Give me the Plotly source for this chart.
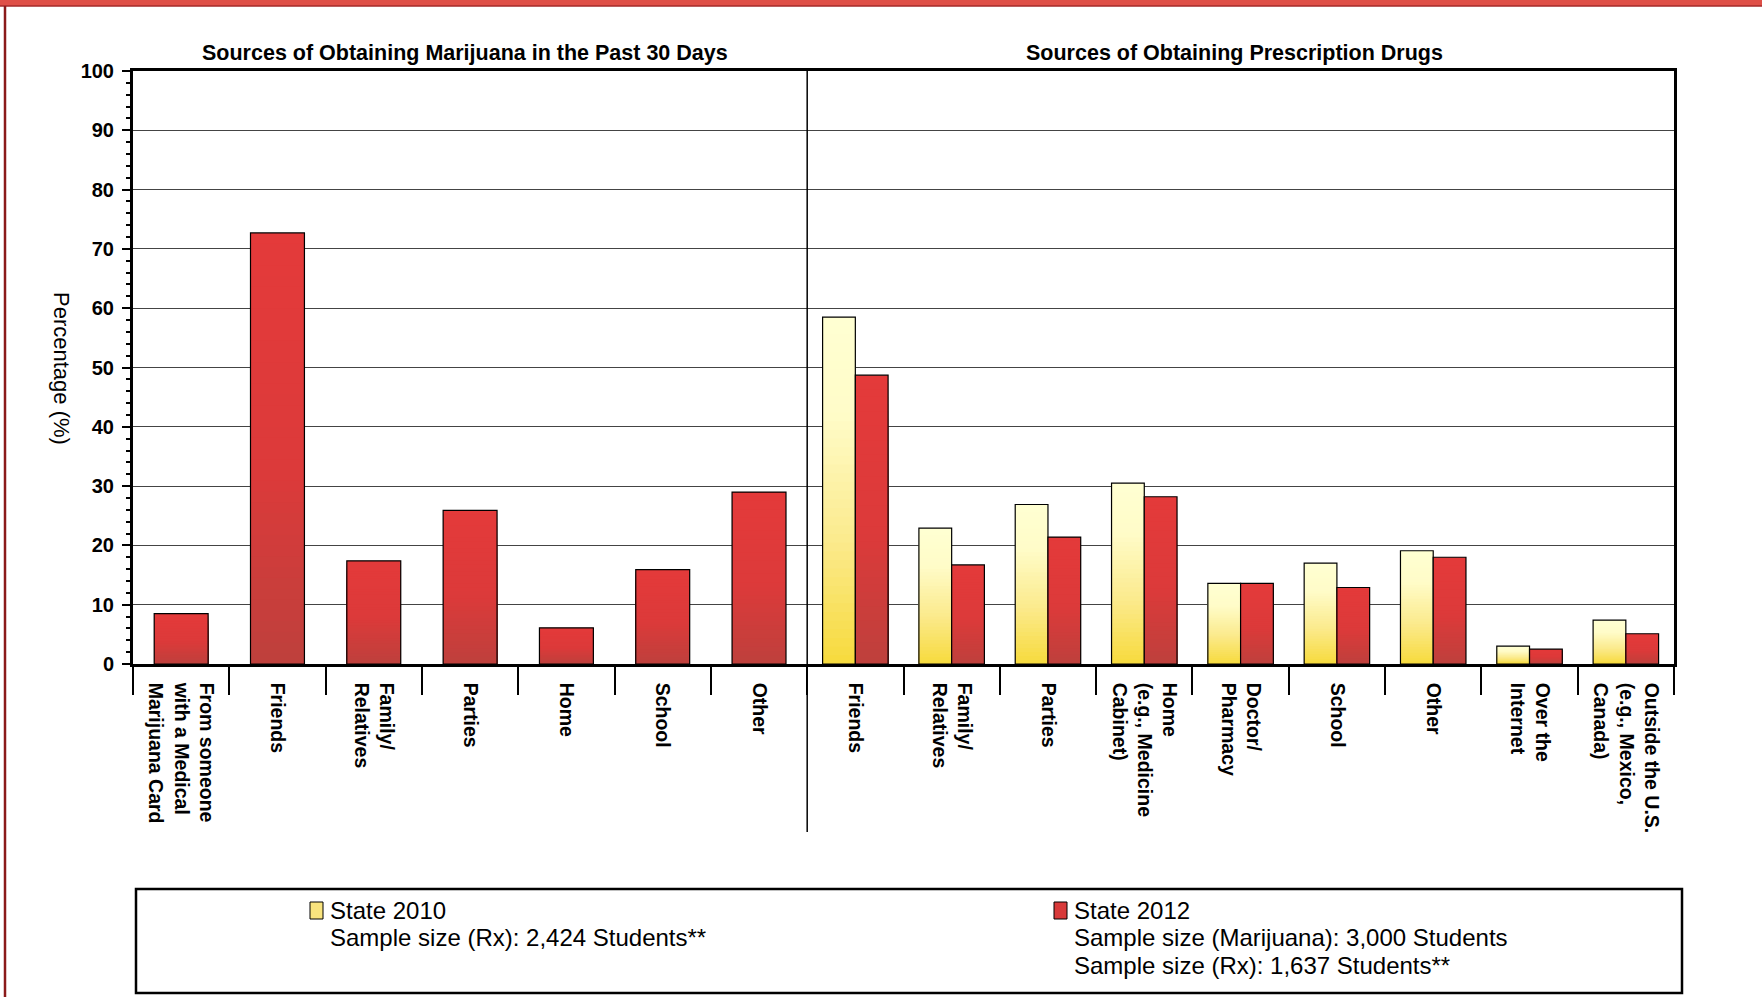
import plotly.graph_objects as go

# ---------------- data ----------------
mj_categories = ["From someone<br>with a Medical<br>Marijuana Card", "Friends", "Family/<br>Relatives",
                 "Parties", "Home", "School", "Other"]
rx_categories = ["Friends", "Family/<br>Relatives", "Parties", "Home<br>(e.g., Medicine<br>Cabinet)",
                 "Doctor/<br>Pharmacy", "School", "Other", "Over the<br>Internet",
                 "Outside the U.S.<br>(e.g., Mexico,<br>Canada)"]
mj_2012 = [8.5, 72.7, 17.4, 25.9, 6.1, 15.9, 29.0]
rx_2010 = [58.5, 22.9, 26.9, 30.5, 13.6, 17.0, 19.1, 3.0, 7.4]
rx_2012 = [48.7, 16.7, 21.4, 28.2, 13.6, 12.9, 18.0, 2.5, 5.1]
y_ticks = list(range(0, 101, 10))

left_title = "Sources of Obtaining Marijuana in the Past 30 Days"
right_title = "Sources of Obtaining Prescription Drugs"
y_title = "Percentage (%)"
legend_2010 = ["State 2010", "Sample size (Rx): 2,424 Students**"]
legend_2012 = ["State 2012", "Sample size (Marijuana): 3,000 Students", "Sample size (Rx): 1,637 Students**"]

# ---------------- layout geometry (pixels) ----------------
W_FIG, H_FIG = 1762, 997
L, R, T, B = 133, 88, 71, 333
PW = W_FIG - L - R
PH = H_FIG - T - B
FONT = "Arial, Liberation Sans, sans-serif"


def px(xp):
    return (xp - L) / PW


def py(yp):
    return (H_FIG - B - yp) / PH


mj_x = list(range(len(mj_categories)))
rx_x = [len(mj_categories) + i for i in range(len(rx_categories))]
all_x = mj_x + rx_x
all_labels = mj_categories + rx_categories

YELLOW_STOPS = [(0.0, (247, 218, 60)), (0.35, (251, 234, 140)), (0.72, (255, 252, 200)), (1.0, (255, 255, 210))]
RED_STOPS = [(0.0, (190, 64, 60)), (0.45, (220, 58, 58)), (1.0, (228, 58, 58))]


def interp(stops, t):
    for (t0, c0), (t1, c1) in zip(stops[:-1], stops[1:]):
        if t <= t1:
            f = (t - t0) / (t1 - t0) if t1 > t0 else 0
            c = [round(a + (b - a) * f) for a, b in zip(c0, c1)]
            return "rgb(%d,%d,%d)" % tuple(c)
    return "rgb(%d,%d,%d)" % stops[-1][1]


fig = go.Figure()


def add_gradient_bars(x, y, width, offset, stops, N=40):
    for k in range(N):
        frac = (N - k) / N
        fig.add_bar(x=x, y=[v * frac for v in y], width=width, offset=offset,
                    marker=dict(color=interp(stops, (N - k - 0.5) / N), line=dict(width=0)),
                    showlegend=False, hoverinfo="skip")
    fig.add_bar(x=x, y=y, width=width, offset=offset,
                marker=dict(color="rgba(0,0,0,0)", line=dict(color="black", width=1.2)),
                showlegend=False)


add_gradient_bars(mj_x, mj_2012, 0.56, -0.28, RED_STOPS)
add_gradient_bars(rx_x, rx_2010, 0.34, -0.34, YELLOW_STOPS)
add_gradient_bars(rx_x, rx_2012, 0.34, 0.0, RED_STOPS)

fig.update_layout(
    width=W_FIG, height=H_FIG,
    margin=dict(l=L, r=R, t=T, b=B, pad=0),
    barmode="overlay",
    plot_bgcolor="white", paper_bgcolor="white",
    font=dict(family=FONT, color="black"),
    showlegend=False,
)

fig.update_xaxes(
    range=[-0.5, len(all_x) - 0.5],
    tickmode="array", tickvals=all_x, ticktext=["<b>%s</b>" % t for t in all_labels],
    tickangle=90, ticks="", ticklabelstandoff=12,
    tickfont=dict(size=19.5, family=FONT, color="black"),
    showgrid=False, zeroline=False,
    showline=True, linecolor="black", linewidth=2.5, mirror=True,
    minor=dict(tickmode="array", tickvals=[i - 0.5 for i in range(len(all_x) + 1)],
               ticks="outside", ticklen=28, tickwidth=1.5, tickcolor="black", showgrid=False),
)

fig.update_yaxes(
    range=[0, 100], tickmode="array", tickvals=y_ticks,
    ticktext=["<b>%d</b>" % v for v in y_ticks],
    tickfont=dict(size=20, family=FONT, color="black"),
    ticks="outside", ticklen=8, tickwidth=2, tickcolor="black", ticklabelstandoff=4,
    showgrid=True, gridcolor="#444444", gridwidth=1,
    zeroline=False,
    showline=True, linecolor="black", linewidth=3, mirror=True,
    minor=dict(dtick=2, tick0=0, ticks="outside", ticklen=4, tickwidth=1.5, tickcolor="black", showgrid=False),
)

shapes = []
# divider between the two panels
shapes.append(dict(type="line", xref="x", yref="paper", x0=len(mj_x) - 0.5, x1=len(mj_x) - 0.5,
                   y0=py(832), y1=1, line=dict(color="black", width=1.5)))
# red top band and left border
shapes.append(dict(type="rect", xref="paper", yref="paper", x0=px(0), x1=px(W_FIG), y0=py(0), y1=py(6),
                   fillcolor="#DF4F47", line=dict(width=0), layer="above"))
shapes.append(dict(type="line", xref="paper", yref="paper", x0=px(0), x1=px(W_FIG), y0=py(6), y1=py(6),
                   line=dict(color="#A52A2A", width=1.5)))
shapes.append(dict(type="line", xref="paper", yref="paper", x0=px(5), x1=px(5), y0=py(6), y1=py(H_FIG),
                   line=dict(color="#8B1A1A", width=2.5)))
# legend box
shapes.append(dict(type="rect", xref="paper", yref="paper", x0=px(136), x1=px(1682), y0=py(889), y1=py(993),
                   fillcolor="white", line=dict(color="black", width=2.5)))
# swatches
shapes.append(dict(type="rect", xref="paper", yref="paper", x0=px(310), x1=px(323), y0=py(902), y1=py(919),
                   fillcolor="#F9E47E", line=dict(color="black", width=1)))
shapes.append(dict(type="rect", xref="paper", yref="paper", x0=px(1054), x1=px(1067), y0=py(902), y1=py(919),
                   fillcolor="#D83A3A", line=dict(color="black", width=1)))
fig.update_layout(shapes=shapes)

ann = []
ann.append(dict(text="<b>%s</b>" % left_title, xref="paper", yref="paper", x=px(465), y=py(53),
                showarrow=False, font=dict(size=21.5, family=FONT, color="black"), xanchor="center", yanchor="middle"))
ann.append(dict(text="<b>%s</b>" % right_title, xref="paper", yref="paper", x=px(1234), y=py(53),
                showarrow=False, font=dict(size=21.5, family=FONT, color="black"), xanchor="center", yanchor="middle"))
ann.append(dict(text=y_title, xref="paper", yref="paper", x=px(62), y=py(368), textangle=90,
                showarrow=False, font=dict(size=22, family=FONT, color="black"), xanchor="center", yanchor="middle"))
line_ys = [910, 938, 965]
for i, t in enumerate(legend_2010):
    ann.append(dict(text=t, xref="paper", yref="paper", x=px(328), y=py(line_ys[i]), showarrow=False,
                    font=dict(size=24, family=FONT, color="black"), xanchor="left", yanchor="middle"))
for i, t in enumerate(legend_2012):
    ann.append(dict(text=t, xref="paper", yref="paper", x=px(1072), y=py(line_ys[i]), showarrow=False,
                    font=dict(size=24, family=FONT, color="black"), xanchor="left", yanchor="middle"))
fig.update_layout(annotations=ann)

fig.write_html("out.html", config={"displayModeBar": False},
               post_script="document.body.style.margin='0px';")
